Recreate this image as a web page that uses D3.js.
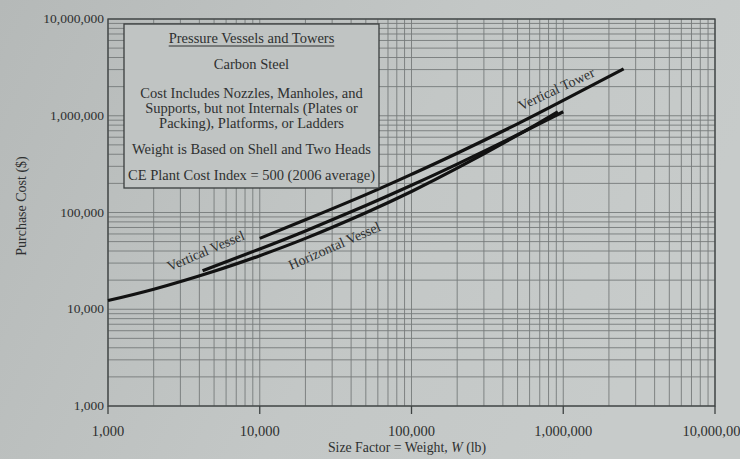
<!DOCTYPE html>
<html>
<head>
<meta charset="utf-8">
<script src="https://cdn.jsdelivr.net/npm/d3@7"></script>
<style>
    body { margin: 0; background: #bfc3c2; }
    svg text { font-family: "Liberation Serif", "Times New Roman", serif; fill: #2e3030; }
</style>
</head>
<body>
<div id="chart"></div>
<script>
// size factor (lb) and purchase cost ($)
const horizontalWeight = [1000, 2000, 5000, 10000, 20000, 50000, 100000, 200000, 500000, 920000];
const horizontalCost = [12300, 16100, 24700, 35800, 54000, 99500, 165000, 287000, 630000, 1100000];

const verticalVesselWeight = [4200, 10000, 20000, 50000, 100000, 200000, 500000, 1000000];
const verticalVesselCost = [25000, 42000, 64500, 118000, 191000, 316000, 636000, 1100000];

const towerWeight = [10000, 20000, 50000, 100000, 200000, 500000, 1000000, 2500000];
const towerCost = [54000, 84000, 153000, 248000, 410000, 825000, 1440000, 3050000];

const xTicks = [1000, 10000, 100000, 1000000, 10000000];
const xTickLabels = ["1,000", "10,000", "100,000", "1,000,000", "10,000,000"];
const yTicks = [1000, 10000, 100000, 1000000, 10000000];
const yTickLabels = ["1,000", "10,000", "100,000", "1,000,000", "10,000,000"];

const curveLabels = [
    {text: "Vertical Vessel", w: 4400, c: 40400, angle: -23},
    {text: "Horizontal Vessel", w: 31000, c: 45500, angle: -23.7},
    {text: "Vertical Tower", w: 900000, c: 1900000, angle: -25}
];

const noteLines = [
    "Carbon Steel",
    "Cost Includes Nozzles, Manholes, and",
    "Supports, but not Internals (Plates or",
    "Packing), Platforms, or Ladders",
    "Weight is Based on Shell and Two Heads",
    "CE Plant Cost Index = 500 (2006 average)"
];

(function() {
    const width = 740, height = 459;
    const plot = {left: 108, right: 715, top: 19, bottom: 406};

    const svg = d3.select("#chart").append("svg")
            .attr("width", width)
            .attr("height", height);

    const grad = svg.append("defs").append("linearGradient")
            .attr("id", "paper")
            .attr("x1", "0").attr("y1", "0")
            .attr("x2", "1").attr("y2", "0.3");
    grad.append("stop").attr("offset", "0").attr("stop-color", "#b5b9b8");
    grad.append("stop").attr("offset", "0.6").attr("stop-color", "#c3c7c6");
    grad.append("stop").attr("offset", "1").attr("stop-color", "#c7cbca");

    svg.append("rect")
            .attr("width", width)
            .attr("height", height)
            .attr("fill", "url(#paper)");

    const x = d3.scaleLog().domain([1e3, 1e7]).range([plot.left, plot.right]);
    const y = d3.scaleLog().domain([1e3, 1e7]).range([plot.bottom, plot.top]);

    // log grid: 1..9 in every decade
    const gridValues = [];
    for (let d = 1e3; d < 1e7; d *= 10) {
        for (let k = 1; k <= 9; k++) {
            gridValues.push(k*d);
        }
    }
    gridValues.push(1e7);

    const grid = svg.append("g")
            .attr("stroke", "#767a7a")
            .attr("stroke-width", 0.9);
    grid.selectAll("line.gx").data(gridValues).join("line")
            .attr("class", "gx")
            .attr("x1", d => x(d)).attr("x2", d => x(d))
            .attr("y1", plot.top).attr("y2", plot.bottom);
    grid.selectAll("line.gy").data(gridValues).join("line")
            .attr("class", "gy")
            .attr("x1", plot.left).attr("x2", plot.right)
            .attr("y1", d => y(d)).attr("y2", d => y(d));

    // frame
    svg.append("rect")
            .attr("x", plot.left)
            .attr("y", plot.top)
            .attr("width", plot.right - plot.left)
            .attr("height", plot.bottom - plot.top)
            .attr("fill", "none")
            .attr("stroke", "#3e4242")
            .attr("stroke-width", 1.3);

    // decade ticks below the x axis
    svg.append("g").selectAll("line").data(xTicks).join("line")
            .attr("x1", d => x(d)).attr("x2", d => x(d))
            .attr("y1", plot.bottom).attr("y2", plot.bottom + 8)
            .attr("stroke", "#3e4242")
            .attr("stroke-width", 1.3);

    svg.append("g").selectAll("text").data(xTicks).join("text")
            .attr("x", d => x(d))
            .attr("y", plot.bottom + 30)
            .attr("text-anchor", "middle")
            .style("font-size", "14.5px")
            .text((d, i) => xTickLabels[i]);

    svg.append("g").selectAll("text").data(yTicks).join("text")
            .attr("x", plot.left - 4)
            .attr("y", d => y(d) + 4)
            .attr("text-anchor", "end")
            .style("font-size", "13.5px")
            .text((d, i) => yTickLabels[i]);

    const xTitle = svg.append("text")
            .attr("x", 407)
            .attr("y", 452)
            .attr("text-anchor", "middle")
            .style("font-size", "13.8px");
    xTitle.append("tspan").text("Size Factor = Weight, ");
    xTitle.append("tspan").style("font-style", "italic").text("W");
    xTitle.append("tspan").text(" (lb)");

    svg.append("text")
            .attr("transform", "translate(26,206) rotate(-90)")
            .attr("text-anchor", "middle")
            .style("font-size", "14px")
            .text("Purchase Cost ($)");

    // curves
    const line = d3.line()
            .x(d => x(d[0]))
            .y(d => y(d[1]))
            .curve(d3.curveNatural);
    const series = [
        d3.zip(horizontalWeight, horizontalCost),
        d3.zip(verticalVesselWeight, verticalVesselCost),
        d3.zip(towerWeight, towerCost)
    ];
    svg.append("g").selectAll("path").data(series).join("path")
            .attr("d", line)
            .attr("fill", "none")
            .attr("stroke", "#121212")
            .attr("stroke-width", 3.2)
            .attr("stroke-linecap", "butt");

    svg.append("g").selectAll("text").data(curveLabels).join("text")
            .attr("transform", d => "translate(" + x(d.w) + "," + y(d.c) + ") rotate(" + d.angle + ")")
            .attr("text-anchor", "middle")
            .attr("dy", "0.35em")
            .style("font-size", "14px")
            .text(d => d.text);

    // note box
    const box = {x: 124, y: 24, w: 255, h: 164};
    svg.append("rect")
            .attr("x", box.x).attr("y", box.y)
            .attr("width", box.w).attr("height", box.h)
            .attr("fill", "#c0c4c3")
            .attr("stroke", "#3a3e3e")
            .attr("stroke-width", 1.3);

    const cx = box.x + box.w/2;
    const title = svg.append("text")
            .attr("x", cx)
            .attr("y", 43)
            .attr("text-anchor", "middle")
            .style("font-size", "14.5px")
            .text("Pressure Vessels and Towers");
    const tw = title.node().getComputedTextLength();
    svg.append("line")
            .attr("x1", cx - tw/2).attr("x2", cx + tw/2)
            .attr("y1", 46).attr("y2", 46)
            .attr("stroke", "#2e3030")
            .attr("stroke-width", 1);

    const noteY = [69, 98, 113, 128, 154, 180];
    svg.append("g").selectAll("text").data(noteLines).join("text")
            .attr("x", cx)
            .attr("y", (d, i) => noteY[i])
            .attr("text-anchor", "middle")
            .style("font-size", "14.5px")
            .text(d => d);
})();
</script>
</body>
</html>
